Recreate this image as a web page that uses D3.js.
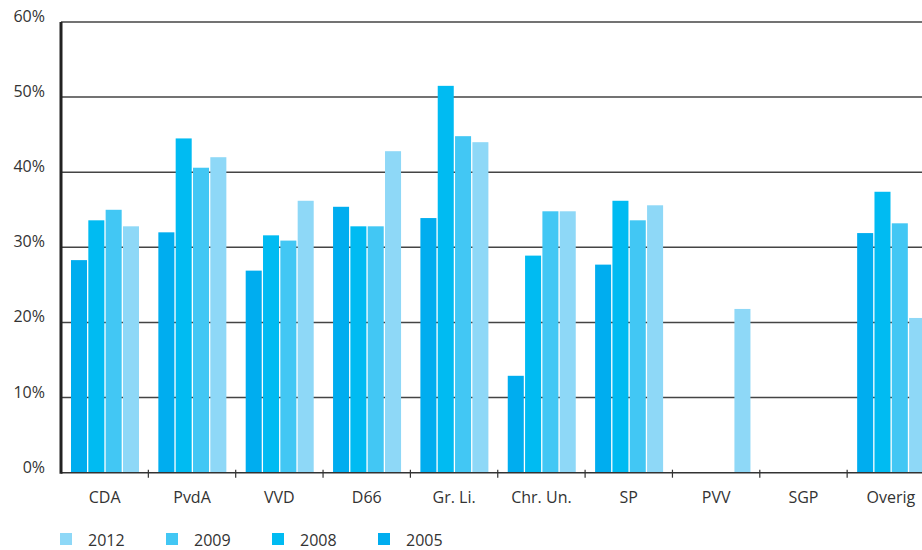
<!DOCTYPE html>
<html>
<head>
	<meta charset="utf-8">
	<script src="https://d3js.org/d3.v7.min.js"></script>
	<style>
		body { margin: 0; background: #fff; }
		text { font-family: "Open Sans", "Noto Sans", sans-serif; fill: #333; }
	</style>
</head>
<body>
<script>
	// categories and series (left to right inside each group)
	var parties = ["CDA", "PvdA", "VVD", "D66", "Gr. Li.", "Chr. Un.", "SP", "PVV", "SGP", "Overig"];
	var years = ["2005", "2008", "2009", "2012"];
	var legendYears = ["2012", "2009", "2008", "2005"];
	var yTicks = [0, 10, 20, 30, 40, 50, 60];

	// percentages (null = no bar)
	var v2005 = [28.3, 32.0, 26.9, 35.4, 33.9, 12.9, 27.7, null, null, 31.9];
	var v2008 = [33.6, 44.5, 31.6, 32.8, 51.5, 28.9, 36.2, null, null, 37.4];
	var v2009 = [35.0, 40.6, 30.9, 32.8, 44.8, 34.8, 33.6, null, null, 33.2];
	var v2012 = [32.8, 42.0, 36.2, 42.8, 44.0, 34.8, 35.6, 21.8, null, 20.6];

	var colors = {"2005": "#00adef", "2008": "#00bbf2", "2009": "#42c7f4", "2012": "#8ed8f7"};
	var series = {"2005": v2005, "2008": v2008, "2009": v2009, "2012": v2012};

	var width = 922, height = 550;
	var svg = d3.select("body").append("svg")
		.attr("width", width)
		.attr("height", height);

	var x0 = d3.scaleBand().domain(parties).range([61, 934.5]).padding(0);
	var x1 = d3.scaleBand().domain(years).range([10, 78]).paddingInner(0.075).paddingOuter(0);
	var y = d3.scaleLinear().domain([0, 60]).range([472.7, 22]);

	/*
		gridlines
	*/
	svg.append("g")
		.selectAll("line")
		.data(yTicks.slice(1))
		.enter().append("line")
			.attr("x1", 61)
			.attr("x2", width)
			.attr("y1", function(d) { return y(d); })
			.attr("y2", function(d) { return y(d); })
			.attr("stroke", "#444")
			.attr("stroke-width", 1.5);

	// y tick labels, baseline on the gridline
	svg.append("g")
		.selectAll("text")
		.data(yTicks)
		.enter().append("text")
			.attr("x", 45)
			.attr("y", function(d) { return y(d); })
			.attr("text-anchor", "end")
			.style("font-size", "16px")
			.text(function(d) { return d + "%"; });

	/*
		bars
	*/
	var rows = [];
	parties.forEach(function(p, i) {
		years.forEach(function(yr) {
			var val = series[yr][i];
			if (val != null) rows.push({party: p, year: yr, value: val});
		});
	});

	svg.append("g")
		.selectAll("rect")
		.data(rows)
		.enter().append("rect")
			.attr("x", function(d) { return x0(d.party) + x1(d.year); })
			.attr("y", function(d) { return y(d.value); })
			.attr("width", x1.bandwidth())
			.attr("height", function(d) { return y(0) - y(d.value); })
			.attr("fill", function(d) { return colors[d.year]; });

	/*
		x axis: baseline, group ticks and labels
	*/
	svg.append("line")
		.attr("x1", 61).attr("x2", width)
		.attr("y1", y(0)).attr("y2", y(0))
		.attr("stroke", "#333").attr("stroke-width", 1.5);

	svg.append("g")
		.selectAll("line")
		.data(parties.slice(1))
		.enter().append("line")
			.attr("x1", function(d) { return x0(d); })
			.attr("x2", function(d) { return x0(d); })
			.attr("y1", y(0) - 3)
			.attr("y2", y(0) + 5)
			.attr("stroke", "#333")
			.attr("stroke-width", 1.2);

	svg.append("g")
		.selectAll("text")
		.data(parties)
		.enter().append("text")
			.attr("x", function(d) { return x0(d) + x0.bandwidth() / 2; })
			.attr("y", 503)
			.attr("text-anchor", "middle")
			.style("font-size", "16px")
			.text(function(d) { return d; });

	// y axis line
	svg.append("line")
		.attr("x1", 61).attr("x2", 61)
		.attr("y1", 22).attr("y2", y(0) + 1)
		.attr("stroke", "#222").attr("stroke-width", 3);

	/*
		legend
	*/
	var legend = svg.append("g")
		.selectAll("g")
		.data(legendYears)
		.enter().append("g")
			.attr("transform", function(d, i) { return "translate(" + (60 + i * 106) + ",533)"; });

	legend.append("rect")
		.attr("width", 12)
		.attr("height", 12)
		.attr("fill", function(d) { return colors[d]; });

	legend.append("text")
		.attr("x", 28)
		.attr("y", 12.5)
		.style("font-size", "16px")
		.text(function(d) { return d; });
</script>
</body>
</html>
